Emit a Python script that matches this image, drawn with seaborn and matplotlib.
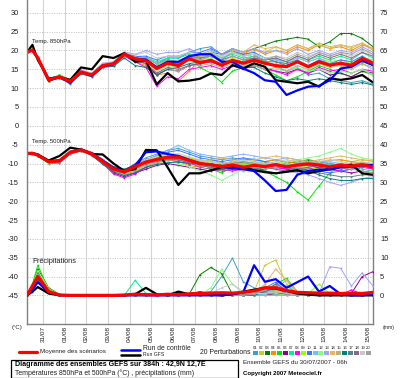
import matplotlib
matplotlib.use("Agg")
import matplotlib.pyplot as plt
import pandas as pd
import seaborn as sns
from matplotlib.lines import Line2D
from matplotlib.patches import Rectangle

# ---------------- data ----------------
HOURS = [0, 6, 12, 24, 36, 48, 60, 72, 84, 96, 108, 120, 132, 144, 156, 168, 180,
         192, 204, 216, 228, 240, 252, 264, 276, 288, 300, 312, 324, 336, 348, 360, 372, 384]
DAY_HOURS = [18, 42, 66, 90, 114, 138, 162, 186, 210, 234, 258, 282, 306, 330, 354, 378]
DAY_LABELS = ["31/07", "01/08", "02/08", "03/08", "04/08", "05/08", "06/08", "07/08",
              "08/08", "09/08", "10/08", "11/08", "12/08", "13/08", "14/08", "15/08"]
MEMBER_IDS = ["%02d" % i for i in range(1, 21)]
MEMBER_COLORS = ["#3ca0c8", "#c8c83c", "#008000", "#ff8c00", "#00e600", "#8c008c", "#00f08c",
                 "#ff00ff", "#96ff00", "#3c78ff", "#82b4ff", "#82ff82", "#a0a0ff", "#e6b464",
                 "#b4b478", "#008080", "#5a8282", "#8c648c", "#c8c8c8", "#a0a0a0"]

# 850 hPa temperature (deg C)
MEAN_850 = [19.6, 20.1, 18.0, 12.2, 13.0, 11.8, 14.3, 13.5, 16.0, 16.5, 19.0, 17.8, 17.3, 15.2, 16.6, 16.0, 17.8,
            16.8, 17.4, 16.1, 17.4, 16.6, 17.4, 16.6, 16.0, 15.7, 17.0, 15.7, 17.0, 16.1, 16.6, 16.1, 17.9, 16.6]
CTRL_850 = [19.6, 20.0, 18.0, 12.0, 13.0, 11.5, 14.3, 13.3, 15.8, 16.3, 19.0, 17.8, 17.6, 15.5, 17.0, 17.0, 18.5,
            19.0, 19.0, 17.0, 17.0, 15.2, 14.0, 12.1, 11.7, 8.2, 9.4, 10.4, 10.6, 12.1, 15.2, 15.7, 17.4, 16.1]
GFS_850 = [19.5, 21.5, 17.5, 12.5, 13.0, 12.2, 15.5, 15.0, 18.5, 18.0, 19.3, 17.0, 17.3, 11.0, 14.0, 11.8, 12.0,
           12.5, 13.9, 13.5, 16.1, 15.2, 16.6, 15.7, 12.1, 11.7, 11.3, 11.7, 10.4, 12.6, 12.2, 12.6, 13.5, 11.5]
PERT_850 = [
    [19.6, 20.0, 18.2, 12.5, 13.3, 12.0, 14.6, 13.8, 16.3, 16.8, 19.3, 18.5, 18.0, 16.5, 18.0, 18.0, 19.5,
     20.5, 21.0, 19.0, 20.0, 18.5, 19.0, 17.0, 16.0, 14.5, 15.5, 13.5, 14.0, 12.5, 12.0, 11.5, 12.0, 11.0],
    [19.5, 20.2, 17.8, 12.0, 12.8, 11.6, 14.0, 13.2, 15.8, 16.5, 19.0, 18.0, 17.5, 16.0, 17.5, 17.0, 18.5,
     18.0, 19.0, 17.5, 19.5, 18.5, 20.0, 19.5, 21.0, 20.0, 21.5, 20.5, 22.0, 21.0, 21.5, 20.5, 22.0, 20.0],
    [19.7, 20.1, 18.1, 11.8, 13.4, 12.2, 14.5, 13.6, 16.2, 16.3, 18.8, 17.5, 17.5, 15.5, 17.0, 16.5, 18.0,
     18.5, 19.5, 19.0, 20.5, 19.5, 20.5, 21.5, 22.5, 23.0, 23.5, 23.0, 21.0, 22.3, 24.5, 24.5, 23.2, 21.0],
    [19.6, 20.3, 18.0, 12.3, 12.9, 11.5, 14.1, 13.3, 15.7, 16.0, 18.5, 17.0, 16.0, 13.5, 14.0, 11.8, 14.5,
     17.5, 18.5, 17.5, 19.5, 19.0, 20.5, 19.0, 20.0, 19.5, 21.0, 20.0, 21.5, 20.5, 21.0, 20.0, 21.5, 20.5],
    [19.6, 20.0, 17.9, 11.9, 13.6, 12.1, 14.4, 13.7, 15.9, 16.7, 19.2, 18.3, 18.0, 16.5, 17.5, 17.0, 18.5,
     15.5, 14.0, 11.5, 14.5, 15.5, 16.0, 15.0, 13.5, 12.0, 13.0, 14.5, 16.0, 15.0, 14.0, 13.0, 14.5, 13.5],
    [19.5, 20.1, 18.1, 12.4, 13.1, 11.7, 14.2, 13.4, 16.1, 16.4, 18.9, 17.5, 16.5, 13.5, 15.0, 14.5, 16.0,
     16.5, 17.0, 16.0, 17.0, 16.0, 16.5, 15.5, 14.5, 14.0, 15.0, 14.0, 15.0, 13.5, 14.0, 13.0, 14.5, 14.0],
    [19.6, 20.2, 18.0, 12.1, 13.2, 11.9, 14.7, 13.9, 16.4, 16.6, 19.1, 18.0, 18.2, 17.0, 18.0, 18.0, 19.0,
     18.5, 19.5, 18.0, 19.0, 18.0, 18.5, 17.5, 18.0, 17.0, 18.5, 17.5, 18.5, 17.5, 18.5, 17.5, 19.5, 18.0],
    [19.7, 20.0, 17.9, 12.2, 12.7, 11.4, 13.9, 13.1, 15.6, 16.2, 18.5, 17.0, 15.5, 10.5, 13.0, 12.5, 15.0,
     15.5, 16.0, 15.0, 16.0, 15.0, 16.0, 15.0, 14.5, 13.5, 15.0, 14.0, 15.5, 14.5, 15.0, 14.0, 15.0, 14.5],
    [19.6, 20.1, 18.2, 12.0, 13.0, 11.8, 14.3, 13.5, 16.0, 16.5, 19.0, 17.8, 17.5, 15.5, 16.5, 16.0, 17.5,
     17.0, 17.5, 16.5, 18.0, 17.0, 18.0, 17.0, 17.5, 16.5, 18.0, 17.0, 18.0, 17.0, 17.5, 16.5, 18.0, 17.5],
    [19.5, 20.0, 17.8, 12.3, 13.0, 11.0, 14.0, 13.4, 16.2, 16.8, 19.4, 18.4, 18.5, 17.5, 18.5, 18.5, 19.5,
     19.5, 20.5, 19.0, 20.0, 19.0, 19.5, 18.0, 17.0, 16.5, 17.5, 16.0, 17.5, 16.5, 17.5, 17.0, 18.5, 17.0],
    [19.6, 20.2, 18.1, 12.1, 13.3, 12.0, 14.5, 13.7, 16.5, 16.6, 19.2, 18.2, 18.0, 16.5, 17.5, 17.0, 18.5,
     18.0, 19.0, 18.0, 19.5, 18.5, 19.0, 18.0, 17.5, 17.0, 18.0, 17.0, 18.0, 16.5, 17.0, 15.5, 16.5, 15.0],
    [19.7, 20.1, 17.9, 12.4, 13.5, 12.3, 14.6, 13.8, 16.1, 16.3, 18.8, 17.6, 17.0, 14.5, 16.0, 15.5, 17.5,
     17.5, 18.0, 16.5, 17.0, 16.0, 16.5, 15.5, 15.0, 14.5, 15.5, 14.5, 15.0, 14.0, 14.5, 14.0, 15.0, 13.5],
    [19.6, 20.0, 18.3, 12.6, 13.4, 12.2, 14.8, 14.0, 16.6, 17.0, 19.6, 19.0, 20.0, 19.0, 19.5, 19.5, 20.5,
     19.0, 20.0, 19.0, 20.5, 19.5, 20.5, 19.5, 20.0, 19.0, 20.5, 19.0, 20.0, 19.0, 20.0, 19.5, 21.0, 19.5],
    [19.5, 20.3, 18.0, 12.2, 12.9, 11.7, 14.2, 13.3, 15.9, 16.4, 19.0, 17.8, 17.2, 15.0, 16.5, 16.5, 18.5,
     18.5, 19.0, 18.5, 20.0, 19.5, 21.5, 20.5, 21.0, 20.0, 21.5, 20.5, 21.5, 20.5, 21.5, 21.0, 22.0, 20.5],
    [19.6, 20.1, 17.9, 11.8, 12.8, 11.6, 14.0, 13.2, 15.7, 16.2, 18.7, 17.3, 16.5, 14.0, 15.0, 14.5, 16.0,
     16.0, 16.5, 15.5, 16.5, 15.5, 16.0, 15.0, 15.5, 14.5, 16.0, 15.0, 16.5, 15.5, 16.0, 15.0, 16.5, 15.5],
    [19.6, 19.9, 17.7, 12.0, 12.6, 11.3, 13.8, 13.0, 15.5, 15.8, 18.0, 16.0, 15.5, 13.5, 15.0, 15.5, 16.5,
     17.0, 17.5, 16.0, 17.0, 15.5, 15.5, 14.0, 13.0, 12.0, 12.5, 12.0, 12.5, 12.0, 11.5, 11.0, 11.5, 10.8],
    [19.7, 20.0, 18.0, 12.3, 13.1, 11.9, 14.3, 13.6, 16.0, 16.6, 19.2, 18.0, 17.5, 15.5, 16.5, 16.5, 18.0,
     18.0, 18.5, 17.5, 18.5, 17.5, 18.0, 17.0, 17.0, 16.0, 17.0, 16.0, 17.0, 16.0, 16.5, 15.5, 17.0, 16.0],
    [19.5, 20.2, 18.1, 12.2, 13.0, 11.8, 14.1, 13.4, 15.8, 16.3, 18.8, 17.4, 16.5, 14.0, 15.5, 15.0, 16.0,
     16.5, 17.0, 16.0, 17.5, 17.0, 18.0, 17.5, 18.0, 17.0, 18.5, 17.5, 19.0, 18.0, 19.0, 18.0, 19.5, 18.5],
    [19.6, 20.0, 18.2, 12.5, 13.2, 12.1, 14.6, 13.9, 16.4, 16.9, 19.5, 18.8, 19.5, 18.0, 18.5, 18.5, 19.5,
     19.0, 19.5, 18.5, 19.5, 18.5, 19.0, 18.0, 18.5, 18.0, 19.5, 18.5, 19.5, 18.5, 19.5, 18.5, 20.0, 19.0],
    [19.6, 20.1, 18.0, 12.2, 13.1, 11.9, 14.4, 13.6, 16.1, 16.5, 19.1, 18.2, 18.0, 16.5, 17.5, 17.0, 18.5,
     17.5, 18.5, 17.0, 18.5, 17.5, 18.5, 17.5, 18.5, 17.5, 19.0, 18.0, 19.5, 18.5, 19.5, 19.0, 20.5, 19.0],
]

# 500 hPa temperature (deg C)
MEAN_500 = [-7.3, -7.3, -7.8, -9.5, -9.3, -7.0, -6.4, -7.5, -9.5, -11.5, -12.2, -10.8, -9.6, -8.9, -8.3, -8.3, -9.2,
            -10.0, -10.3, -10.8, -10.4, -11.0, -10.5, -10.8, -10.3, -10.9, -10.4, -10.1, -10.4, -10.9, -10.4, -10.7, -10.3, -11.0]
CTRL_500 = [-7.3, -7.3, -7.8, -9.4, -9.2, -7.0, -6.3, -7.3, -9.2, -11.2, -12.0, -10.5, -7.0, -6.8, -7.5, -8.0, -9.0,
            -10.0, -10.3, -10.8, -11.3, -11.5, -12.0, -14.5, -17.3, -17.0, -13.0, -12.0, -11.6, -11.6, -11.0, -10.8, -10.5, -10.4]
GFS_500 = [-7.3, -7.2, -7.6, -9.2, -8.0, -5.8, -6.3, -7.5, -7.6, -10.0, -12.0, -11.5, -6.4, -6.5, -11.0, -15.7, -12.6,
           -12.6, -11.8, -11.0, -10.8, -11.0, -11.8, -12.3, -12.6, -12.2, -11.8, -12.6, -12.0, -11.5, -10.8, -10.3, -12.6, -13.0]
PERT_500 = [
    [-7.2, -7.4, -7.9, -9.8, -9.6, -7.2, -6.2, -7.3, -9.3, -11.0, -11.8, -10.0, -8.5, -7.5, -6.5, -6.0, -7.0,
     -8.0, -8.5, -9.0, -8.5, -9.0, -8.8, -9.5, -9.0, -9.8, -9.5, -10.0, -9.8, -10.5, -10.0, -10.8, -10.5, -11.0],
    [-7.3, -7.2, -7.7, -9.3, -9.0, -6.8, -6.5, -7.8, -9.8, -11.8, -12.5, -11.2, -10.0, -9.0, -8.5, -8.0, -8.5,
     -9.5, -9.0, -9.8, -10.0, -9.5, -9.8, -10.2, -10.0, -9.5, -9.0, -9.5, -9.8, -9.2, -9.0, -9.5, -9.0, -9.3],
    [-7.4, -7.3, -7.8, -9.9, -9.7, -7.3, -6.3, -7.2, -9.0, -10.8, -11.5, -10.5, -9.5, -9.0, -8.8, -9.0, -9.8,
     -10.0, -10.5, -10.2, -9.5, -9.8, -10.5, -11.0, -10.5, -10.0, -9.5, -9.0, -9.5, -10.0, -10.5, -10.0, -9.8, -10.5],
    [-7.3, -7.4, -7.6, -9.4, -9.2, -6.9, -6.0, -7.0, -9.2, -12.0, -13.0, -12.0, -11.0, -10.0, -9.0, -9.5, -10.5,
     -11.0, -10.5, -10.0, -9.8, -10.2, -10.0, -9.5, -9.0, -9.5, -10.0, -9.8, -9.5, -9.2, -9.0, -9.5, -9.8, -10.0],
    [-7.2, -7.3, -8.0, -10.0, -9.9, -7.5, -6.7, -7.6, -9.4, -11.5, -12.0, -10.5, -9.0, -8.0, -7.5, -8.0, -9.0,
     -9.5, -11.5, -12.5, -11.0, -10.5, -11.0, -12.0, -13.5, -15.0, -17.5, -19.7, -16.0, -12.5, -10.5, -10.0, -10.5, -11.5],
    [-7.3, -7.2, -7.8, -9.6, -9.5, -7.1, -6.4, -7.4, -9.6, -12.5, -13.5, -12.5, -11.5, -10.5, -10.0, -10.5, -11.0,
     -11.5, -12.0, -11.5, -11.0, -11.5, -12.0, -11.5, -11.0, -11.5, -12.0, -11.5, -11.0, -11.5, -12.0, -12.5, -12.0, -12.5],
    [-7.4, -7.3, -7.7, -9.2, -9.0, -6.7, -6.2, -7.5, -9.9, -11.2, -12.0, -10.8, -9.8, -9.5, -9.0, -8.5, -9.0,
     -9.0, -9.5, -10.0, -10.5, -10.0, -9.5, -10.0, -10.5, -11.0, -11.5, -11.0, -10.5, -10.0, -10.5, -11.0, -11.5, -12.0],
    [-7.3, -7.4, -7.9, -9.7, -9.8, -7.4, -6.6, -7.7, -10.0, -12.8, -13.8, -12.8, -11.0, -9.5, -9.0, -9.5, -10.0,
     -10.5, -11.0, -11.5, -12.0, -11.5, -11.0, -10.5, -11.0, -11.5, -11.0, -10.5, -11.0, -11.5, -12.0, -11.5, -11.0, -11.5],
    [-7.2, -7.3, -7.8, -9.5, -9.3, -7.0, -6.3, -7.4, -9.4, -11.5, -12.3, -11.0, -9.5, -8.5, -8.0, -7.8, -8.5,
     -9.0, -10.0, -11.0, -10.5, -10.0, -10.5, -11.0, -10.5, -10.0, -10.5, -11.0, -11.5, -11.0, -10.5, -10.0, -10.5, -11.0],
    [-7.3, -7.2, -7.6, -9.3, -9.1, -6.8, -6.1, -7.2, -9.0, -11.0, -11.8, -10.2, -9.0, -8.0, -7.0, -6.5, -7.5,
     -8.5, -9.0, -9.5, -9.0, -8.5, -9.0, -9.5, -10.0, -10.5, -11.0, -11.5, -12.0, -12.5, -12.0, -11.5, -11.0, -10.5],
    [-7.4, -7.3, -7.9, -9.6, -9.4, -7.2, -6.5, -7.6, -9.7, -11.3, -12.0, -10.5, -9.2, -7.8, -6.5, -5.2, -6.5,
     -7.5, -8.0, -8.5, -8.0, -7.5, -8.0, -8.5, -9.0, -8.5, -9.0, -9.5, -10.0, -9.5, -10.0, -10.5, -10.0, -10.5],
    [-7.3, -7.4, -7.8, -9.8, -9.6, -7.1, -6.4, -7.3, -9.5, -11.8, -12.5, -11.5, -10.5, -9.8, -9.5, -10.0, -10.8,
     -12.0, -13.0, -14.5, -13.0, -11.5, -11.0, -10.5, -10.0, -9.5, -9.0, -8.5, -8.0, -7.0, -6.0, -7.5, -8.5, -9.0],
    [-7.2, -7.3, -7.7, -9.4, -9.2, -6.9, -6.2, -7.1, -8.8, -11.6, -12.3, -11.0, -10.0, -9.2, -8.5, -8.8, -9.5,
     -10.0, -10.5, -11.0, -11.5, -12.0, -11.5, -11.0, -11.5, -12.0, -12.5, -13.0, -14.0, -15.0, -15.8, -15.0, -14.0, -13.5],
    [-7.3, -7.3, -7.8, -9.5, -9.4, -7.0, -6.3, -7.5, -9.6, -11.4, -12.0, -10.6, -9.4, -8.8, -8.2, -8.0, -8.8,
     -9.5, -9.0, -8.5, -9.0, -9.5, -9.0, -8.5, -8.0, -8.5, -9.0, -9.5, -9.0, -8.5, -8.0, -8.5, -9.0, -9.5],
    [-7.4, -7.2, -7.9, -9.7, -9.5, -7.2, -6.6, -7.8, -9.9, -12.0, -12.8, -11.8, -10.6, -9.8, -9.2, -9.0, -9.6,
     -10.5, -11.0, -10.5, -10.0, -10.5, -11.0, -11.5, -11.0, -10.5, -11.0, -11.5, -12.0, -11.5, -11.0, -11.5, -12.0, -12.5],
    [-7.3, -7.3, -7.7, -9.3, -9.1, -6.9, -6.5, -7.9, -10.2, -12.2, -13.2, -12.4, -11.0, -10.2, -9.8, -9.6, -10.0,
     -10.0, -10.5, -11.0, -11.5, -11.0, -11.5, -12.0, -12.5, -12.0, -11.5, -12.0, -13.0, -14.0, -14.5, -14.5, -14.0, -14.0],
    [-7.2, -7.4, -7.8, -9.6, -9.3, -7.0, -6.4, -7.4, -9.3, -11.5, -12.2, -11.0, -9.8, -9.0, -8.6, -8.6, -9.3,
     -10.5, -11.0, -11.0, -10.5, -11.0, -11.5, -11.0, -10.5, -11.0, -11.5, -12.0, -12.5, -13.0, -13.5, -13.5, -13.0, -13.0],
    [-7.3, -7.3, -7.9, -9.8, -9.7, -7.3, -6.7, -7.7, -9.8, -11.7, -12.6, -11.4, -10.2, -9.4, -8.8, -9.0, -9.8,
     -11.0, -11.5, -12.0, -11.5, -11.0, -10.5, -11.0, -11.5, -12.0, -11.5, -11.0, -10.5, -11.0, -11.5, -11.0, -10.5, -11.0],
    [-7.4, -7.2, -7.7, -9.4, -9.2, -6.9, -6.2, -7.2, -9.1, -11.1, -11.9, -10.4, -9.0, -8.2, -7.6, -7.4, -8.2,
     -9.0, -9.5, -10.0, -9.5, -9.0, -9.5, -10.0, -9.5, -9.0, -9.5, -10.0, -9.5, -9.0, -9.5, -10.0, -9.5, -10.0],
    [-7.3, -7.3, -7.8, -9.5, -9.3, -7.0, -6.4, -7.5, -9.5, -11.4, -12.1, -10.8, -9.7, -8.9, -8.4, -8.2, -9.0,
     -10.0, -10.0, -10.5, -10.0, -9.5, -10.0, -10.5, -10.0, -10.5, -10.0, -9.5, -10.0, -10.5, -10.0, -10.5, -10.0, -10.5],
]

# precipitation (mm)
MEAN_PR = [0, 2.5, 5.0, 1.0, 0.1, 0, 0, 0, 0, 0, 0.1, 0.3, 0.2, 0.1, 0.3, 0.2, 0.4,
           0.5, 0.6, 0.7, 0.6, 0.8, 1.2, 2.0, 2.0, 1.3, 0.8, 0.7, 0.6, 0.6, 0.5, 0.6, 0.5, 0.8]
CTRL_PR = [0, 1.5, 3.5, 0.8, 0.1, 0, 0, 0, 0, 0, 0, 0, 0, 0, 0, 0, 0,
           0, 0, 0, 0.3, 0.8, 8.0, 3.6, 4.3, 2.0, 3.5, 5.0, 1.0, 2.5, 0.3, 0, 0, 0.3]
GFS_PR = [0, 1.0, 2.2, 0.5, 0, 0, 0, 0, 0, 0, 0, 0.3, 2.0, 0.3, 0, 1.0, 0.3,
          0.8, 0.3, 0, 0.3, 1.0, 1.5, 2.0, 1.8, 1.2, 0.5, 0.2, 0, 0, 0, 0, 0, 0]
PERT_PR = [
    [0, 1.5, 4.5, 1.0, 0.2, 0, 0, 0, 0, 0, 0, 0, 0, 0, 0, 0, 0.2, 0.5, 1.0, 5.0, 9.9, 3.6, 2.0, 0.5, 0.3, 0, 0, 0, 0, 0, 0, 0, 0, 0],
    [0, 2.0, 6.0, 1.5, 0.2, 0, 0, 0, 0, 0, 0, 0.5, 0.3, 0, 0, 0, 0, 0, 0, 0, 0.3, 0.5, 1.0, 8.0, 9.4, 3.0, 0.5, 0, 0, 0, 0, 0, 0, 0],
    [0, 2.5, 7.0, 2.0, 0.3, 0, 0, 0, 0, 0, 0, 0, 0, 0, 0, 0, 0.3, 5.5, 7.4, 5.8, 0.3, 0, 0, 0.5, 1.0, 0.5, 0, 0, 0, 0, 0, 0, 0, 0],
    [0, 1.0, 3.5, 0.5, 0.1, 0, 0, 0, 0, 0, 0, 0, 0, 0, 0.2, 0.5, 0.3, 0, 0, 0, 0, 0.5, 1.5, 2.0, 1.0, 0.3, 0, 0, 0, 0, 0, 0, 0, 0],
    [0, 3.0, 8.0, 1.5, 0.2, 0, 0, 0, 0, 0, 0, 0, 0, 0, 0, 0, 0, 0, 0, 0, 0, 0, 0.5, 1.5, 3.0, 4.5, 1.0, 0, 0, 0, 0, 0, 0, 0],
    [0, 1.5, 4.0, 1.0, 0.1, 0, 0, 0, 0, 0, 0, 0, 0, 0, 0, 0, 0, 0, 0, 0, 0, 0, 0, 0, 0.5, 0.3, 0, 0, 0, 0, 0, 0.5, 5.0, 6.3],
    [0, 2.0, 5.5, 1.2, 0.2, 0, 0, 0, 0, 0, 0, 4.0, 0.5, 0, 0, 0, 0, 0, 0, 0, 0, 0, 0, 0.5, 1.5, 2.5, 0.5, 0, 0, 0, 0, 0, 0, 0],
    [0, 1.5, 4.5, 0.8, 0.1, 0, 0, 0, 0, 0, 0, 0, 0, 0, 0, 0, 0, 0, 0, 0, 0, 0, 0.3, 1.0, 0.5, 0, 0, 0, 0, 0, 0, 1.5, 0.3, 0],
    [0, 2.5, 6.5, 1.8, 0.2, 0, 0, 0, 0, 0, 0, 0, 0, 0, 0, 0, 0, 0, 0, 0, 0, 0.3, 0.8, 1.0, 0.5, 0, 0, 0.5, 3.0, 0.5, 0, 0, 0, 0],
    [0, 1.0, 3.8, 0.6, 0.1, 0, 0, 0, 0, 0, 0, 0, 0, 0, 0, 0, 0, 0, 0, 0, 0, 0, 0.5, 2.0, 3.5, 1.0, 0.3, 0, 0, 0, 0, 0, 0, 0],
    [0, 1.5, 5.0, 1.0, 0.1, 0, 0, 0, 0, 0, 0, 0, 0, 0, 0, 0, 0, 0, 0, 0, 0, 0, 0, 0.5, 2.0, 4.0, 0.5, 0, 0, 0, 0, 0, 0, 0],
    [0, 2.0, 6.5, 1.5, 0.2, 0, 0, 0, 0, 0, 0, 0, 0, 0, 0, 0, 0, 0, 2.0, 7.0, 3.0, 0.5, 0, 0, 0, 0, 0, 0, 0, 0, 0, 0, 0, 0],
    [0, 1.5, 4.2, 0.8, 0.1, 0, 0, 0, 0, 0, 0, 0, 0, 0, 0, 0, 0, 0, 0, 0, 0, 0, 0, 0, 0, 0, 0, 0, 0.5, 7.6, 7.2, 2.5, 6.0, 2.5],
    [0, 2.0, 5.5, 1.2, 0.2, 0, 0, 0, 0, 0, 0, 0, 0, 0, 0, 0, 0, 0, 0, 0, 0, 0, 0.5, 3.0, 7.0, 4.0, 1.0, 0, 0, 0, 0, 0, 0, 0],
    [0, 1.8, 5.0, 1.0, 0.1, 0, 0, 0, 0, 0, 0, 0, 0, 0, 0, 0, 0, 0, 0, 0, 0, 0.3, 1.0, 2.5, 1.5, 0.5, 0, 0, 0, 0, 0, 0, 0, 0],
    [0, 1.2, 4.0, 0.7, 0.1, 0, 0, 0, 0, 0, 0, 0, 0, 0, 0, 0, 0, 0, 0, 0, 0, 0, 0, 1.0, 2.0, 0.5, 0, 0, 0, 0, 0, 0, 0, 0],
    [0, 1.5, 4.8, 1.0, 0.1, 0, 0, 0, 0, 0, 0, 0, 0, 0, 0, 0, 0, 0, 0, 0, 0, 0, 0.5, 1.5, 2.5, 1.0, 0, 0, 0, 0, 0, 0, 0, 0],
    [0, 2.2, 6.0, 1.4, 0.2, 0, 0, 0, 0, 0, 0, 0, 0, 0, 0, 0, 0, 0, 0, 0, 0, 0, 0.3, 1.0, 3.0, 1.5, 0, 0, 0, 0, 0, 0, 0, 0],
    [0, 1.6, 5.2, 1.1, 0.1, 0, 0, 0, 0, 0, 0, 0, 0, 0, 0, 0, 0, 0, 0.5, 2.0, 3.0, 1.0, 0.5, 0.5, 1.0, 0.5, 0, 0, 0, 0, 0, 0, 0, 0],
    [0, 1.8, 5.6, 1.3, 0.2, 0, 0, 0, 0, 0, 0, 0, 0, 0, 0, 0, 0, 0, 0, 0, 0, 0, 0.3, 1.5, 2.0, 1.0, 0, 0, 0, 0, 0, 0, 0, 0],
]

LEFT_TICKS = list(range(-45, 31, 5))
RIGHT_TICKS = list(range(0, 76, 5))
RIGHT_OFFSET = 45  # right axis value = left axis value + 45

# ---------------- figure ----------------
W, H = 400, 378
sns.set_theme(style="white")
FONT = ["Liberation Sans", "DejaVu Sans"]
plt.rcParams["font.family"] = FONT
TXT = "#202020"

fig = plt.figure(figsize=(W / 100, H / 100), dpi=100)
fig.patch.set_facecolor("white")
ax = fig.add_axes([27 / W, 1 - 324 / H, 346 / W, 324 / H])
ax.set_facecolor("white")
YLO, YHI = -52.6, 33.4
ax.set_xlim(0, 384)
ax.set_ylim(YLO, YHI)


def long_df(members):
    rows = []
    for mid, vals in zip(MEMBER_IDS, members):
        for h, v in zip(HOURS, vals):
            rows.append((h, v, mid))
    return pd.DataFrame(rows, columns=["hour", "value", "member"])


palette = dict(zip(MEMBER_IDS, MEMBER_COLORS))
pert_kw = dict(hue="member", palette=palette, estimator=None, legend=False, sort=False,
               lw=0.7, marker="s", markersize=1.2, markeredgewidth=0)

for members in (PERT_850, PERT_500):
    sns.lineplot(data=long_df(members), x="hour", y="value", ax=ax, **pert_kw)

for series, col, lw in ((GFS_850, "black", 1.6), (CTRL_850, "#0000ff", 1.6), (MEAN_850, "#ff0000", 2.3),
                        (GFS_500, "black", 1.6), (CTRL_500, "#0000ff", 1.6), (MEAN_500, "#ff0000", 2.3)):
    sns.lineplot(x=HOURS, y=series, ax=ax, color=col, lw=lw, estimator=None, sort=False)

ax2 = ax.twinx()
ax2.set_ylim(YLO + RIGHT_OFFSET, YHI + RIGHT_OFFSET)
sns.lineplot(data=long_df(PERT_PR), x="hour", y="value", ax=ax2, **pert_kw)
for series, col, lw in ((GFS_PR, "black", 1.6), (CTRL_PR, "#0000ff", 1.6), (MEAN_PR, "#ff0000", 2.3)):
    sns.lineplot(x=HOURS, y=series, ax=ax2, color=col, lw=lw, estimator=None, sort=False)
ax2.set_xlim(0, 384)

# grid, ticks
ax.set_yticks(LEFT_TICKS)
ax.set_yticklabels([str(t) for t in LEFT_TICKS])
ax.set_xticks(DAY_HOURS)
ax.set_xticklabels(DAY_LABELS, rotation=90, va="top", ha="center")
ax.grid(axis="y", ls=(0, (1, 1.5)), color="#c0c0c0", lw=0.7)
ax.grid(axis="x", ls="-", color="#d4d4d4", lw=0.8)
ax.set_axisbelow(True)
ax.tick_params(axis="y", length=0, pad=6, labelsize=5.4, labelcolor=TXT)
ax.tick_params(axis="x", length=0, pad=1.5, labelsize=4.6, labelcolor=TXT)
ax2.set_yticks(RIGHT_TICKS)
ax2.set_yticklabels([str(t) for t in RIGHT_TICKS])
ax2.tick_params(axis="y", length=0, pad=5, labelsize=5.4, labelcolor=TXT)
ax.set_xlabel("")
ax.set_ylabel("")
ax2.set_ylabel("")
for s in ("left", "right", "bottom"):
    ax.spines[s].set_color("#808080")
    ax.spines[s].set_linewidth(1.0)
ax.spines["top"].set_visible(False)
for s in ax2.spines.values():
    s.set_visible(False)


def px(x, y):
    return x / W, 1 - y / H


FITS = []


def ftxt(x, y, s, width=None, **kw):
    kw.setdefault("fontsize", 5.0)
    kw.setdefault("color", TXT)
    kw.setdefault("va", "center")
    t = fig.text(*px(x, y), s, **kw)
    if width is not None:
        FITS.append((t, width))
    return t


ftxt(32, 41.5, "Temp. 850hPa", width=39)
ftxt(32, 141.5, "Temp. 500hPa", width=39)
ftxt(32, 261.5, "Précipitations", width=45)
ftxt(17.5, 327.5, "(°C)", ha="center", width=11)
ftxt(388.5, 327.5, "(mm)", ha="center", width=12)

# legend row
def fline(x1, x2, y, col, lw):
    (a, b), (c, d) = px(x1, y), px(x2, y)
    fig.add_artist(Line2D([a, c], [b, d], transform=fig.transFigure, color=col, lw=lw))


fline(19, 37, 352, "#ff0000", 2.3)
ftxt(40, 352, "Moyenne des scénarios", width=68)
fline(121, 140, 349.5, "#0000ff", 1.8)
fline(121, 140, 354.5, "black", 1.8)
ftxt(143, 349, "Run de contrôle", width=49)
ftxt(143, 355, "Run GFS", width=22)
ftxt(200, 352, "20 Perturbations", width=52)
for i, (mid, col) in enumerate(zip(MEMBER_IDS, MEMBER_COLORS)):
    x0 = 253 + i * 5.95
    fig.add_artist(Rectangle(px(x0, 355), 5.0 / W, 3.6 / H, transform=fig.transFigure,
                             facecolor=col, edgecolor="none"))
    ftxt(x0 + 2.5, 347.8, mid, ha="center", fontsize=3.1)

# title box
fig.add_artist(Rectangle(px(11, 377.5), 227 / W, 17.5 / H, transform=fig.transFigure,
                         facecolor="none", edgecolor="black", lw=0.9))
ftxt(15, 365, "Diagramme des ensembles GEFS sur 384h : 42,9N 12,7E", fontweight="bold",
     color="black", width=192)
ftxt(15, 373, "Températures 850hPa et 500hPa (°C) , précipitations (mm)", width=182)
ftxt(243, 362, "Ensemble GEFS du 30/07/2007 - 06h", width=107)
ftxt(243, 373, "Copyright 2007 Meteociel.fr", fontweight="bold", color="black", width=80)

renderer = fig.canvas.get_renderer()
for t, width in FITS:
    w = t.get_window_extent(renderer).width
    t.set_fontsize(t.get_fontsize() * width / w)

fig.savefig("out.png", dpi=100)
